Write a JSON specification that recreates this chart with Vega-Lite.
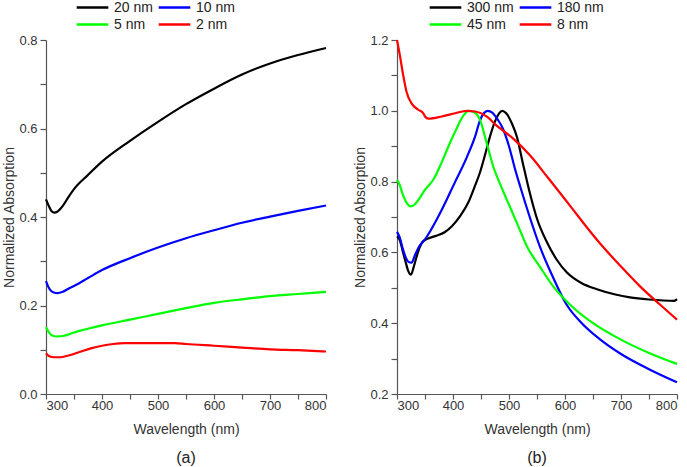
{
  "$schema": "https://vega.github.io/schema/vega-lite/v6.json",
  "padding": {"left": 2, "top": 0, "right": 5, "bottom": 2},
  "background": "white",
  "config": {
    "view": {"stroke": null},
    "font": "Liberation Sans",
    "axis": {"grid": false, "domainColor": "#555", "tickColor": "#555", "labelColor": "#333", "titleColor": "#333", "labelFont": "Liberation Sans", "titleFont": "Liberation Sans", "labelFontSize": 13, "titleFontSize": 14, "titleFontWeight": "normal", "domainWidth": 1.2, "tickWidth": 1.2},
    "axisX": {"tickSize": 5, "labelPadding": 0, "titlePadding": 10},
    "axisY": {"tickSize": 6, "labelPadding": 3, "titlePadding": 2},
    "legend": {"orient": "none", "columns": 2, "symbolType": "stroke", "symbolSize": 1000, "symbolStrokeWidth": 2.5, "clipHeight": 15, "labelFontSize": 14, "labelColor": "#222", "labelFont": "Liberation Sans", "labelOffset": 4, "columnPadding": 4, "rowPadding": 2, "title": null, "padding": 0},
    "title": {"orient": "bottom", "fontSize": 16, "fontWeight": "normal", "font": "Liberation Sans", "color": "#222", "offset": 14}
  },
  "datasets": {
    "panelA": [
      {"series": "20 nm", "wavelength": 300, "absorption": 0.44},
      {"series": "20 nm", "wavelength": 305, "absorption": 0.425},
      {"series": "20 nm", "wavelength": 310, "absorption": 0.413},
      {"series": "20 nm", "wavelength": 315, "absorption": 0.41},
      {"series": "20 nm", "wavelength": 320, "absorption": 0.412},
      {"series": "20 nm", "wavelength": 330, "absorption": 0.425},
      {"series": "20 nm", "wavelength": 340, "absorption": 0.445},
      {"series": "20 nm", "wavelength": 350, "absorption": 0.463},
      {"series": "20 nm", "wavelength": 375, "absorption": 0.495},
      {"series": "20 nm", "wavelength": 400, "absorption": 0.525},
      {"series": "20 nm", "wavelength": 450, "absorption": 0.572},
      {"series": "20 nm", "wavelength": 500, "absorption": 0.615},
      {"series": "20 nm", "wavelength": 550, "absorption": 0.655},
      {"series": "20 nm", "wavelength": 600, "absorption": 0.69},
      {"series": "20 nm", "wavelength": 650, "absorption": 0.722},
      {"series": "20 nm", "wavelength": 700, "absorption": 0.747},
      {"series": "20 nm", "wavelength": 750, "absorption": 0.766},
      {"series": "20 nm", "wavelength": 800, "absorption": 0.782},
      {"series": "10 nm", "wavelength": 300, "absorption": 0.255},
      {"series": "10 nm", "wavelength": 305, "absorption": 0.24},
      {"series": "10 nm", "wavelength": 310, "absorption": 0.232},
      {"series": "10 nm", "wavelength": 320, "absorption": 0.228},
      {"series": "10 nm", "wavelength": 330, "absorption": 0.231},
      {"series": "10 nm", "wavelength": 340, "absorption": 0.238},
      {"series": "10 nm", "wavelength": 350, "absorption": 0.244},
      {"series": "10 nm", "wavelength": 375, "absorption": 0.262},
      {"series": "10 nm", "wavelength": 400, "absorption": 0.28},
      {"series": "10 nm", "wavelength": 450, "absorption": 0.307},
      {"series": "10 nm", "wavelength": 500, "absorption": 0.331},
      {"series": "10 nm", "wavelength": 550, "absorption": 0.352},
      {"series": "10 nm", "wavelength": 600, "absorption": 0.37},
      {"series": "10 nm", "wavelength": 650, "absorption": 0.387},
      {"series": "10 nm", "wavelength": 700, "absorption": 0.401},
      {"series": "10 nm", "wavelength": 750, "absorption": 0.414},
      {"series": "10 nm", "wavelength": 800, "absorption": 0.426},
      {"series": "5 nm", "wavelength": 300, "absorption": 0.151},
      {"series": "5 nm", "wavelength": 305, "absorption": 0.14},
      {"series": "5 nm", "wavelength": 310, "absorption": 0.133},
      {"series": "5 nm", "wavelength": 320, "absorption": 0.13},
      {"series": "5 nm", "wavelength": 330, "absorption": 0.131},
      {"series": "5 nm", "wavelength": 350, "absorption": 0.139},
      {"series": "5 nm", "wavelength": 400, "absorption": 0.155},
      {"series": "5 nm", "wavelength": 450, "absorption": 0.168},
      {"series": "5 nm", "wavelength": 500, "absorption": 0.181},
      {"series": "5 nm", "wavelength": 550, "absorption": 0.194},
      {"series": "5 nm", "wavelength": 600, "absorption": 0.206},
      {"series": "5 nm", "wavelength": 650, "absorption": 0.214},
      {"series": "5 nm", "wavelength": 700, "absorption": 0.221},
      {"series": "5 nm", "wavelength": 750, "absorption": 0.226},
      {"series": "5 nm", "wavelength": 800, "absorption": 0.231},
      {"series": "2 nm", "wavelength": 300, "absorption": 0.092},
      {"series": "2 nm", "wavelength": 305, "absorption": 0.086},
      {"series": "2 nm", "wavelength": 315, "absorption": 0.083},
      {"series": "2 nm", "wavelength": 325, "absorption": 0.083},
      {"series": "2 nm", "wavelength": 340, "absorption": 0.087},
      {"series": "2 nm", "wavelength": 360, "absorption": 0.095},
      {"series": "2 nm", "wavelength": 380, "absorption": 0.103},
      {"series": "2 nm", "wavelength": 400, "absorption": 0.109},
      {"series": "2 nm", "wavelength": 420, "absorption": 0.113},
      {"series": "2 nm", "wavelength": 440, "absorption": 0.115},
      {"series": "2 nm", "wavelength": 500, "absorption": 0.115},
      {"series": "2 nm", "wavelength": 530, "absorption": 0.115},
      {"series": "2 nm", "wavelength": 550, "absorption": 0.113},
      {"series": "2 nm", "wavelength": 600, "absorption": 0.109},
      {"series": "2 nm", "wavelength": 650, "absorption": 0.105},
      {"series": "2 nm", "wavelength": 700, "absorption": 0.101},
      {"series": "2 nm", "wavelength": 750, "absorption": 0.099},
      {"series": "2 nm", "wavelength": 800, "absorption": 0.096}
    ],
    "panelB": [
      {"series": "300 nm", "wavelength": 300, "absorption": 0.645},
      {"series": "300 nm", "wavelength": 305, "absorption": 0.635},
      {"series": "300 nm", "wavelength": 310, "absorption": 0.605},
      {"series": "300 nm", "wavelength": 315, "absorption": 0.575},
      {"series": "300 nm", "wavelength": 320, "absorption": 0.548},
      {"series": "300 nm", "wavelength": 325, "absorption": 0.537},
      {"series": "300 nm", "wavelength": 330, "absorption": 0.56},
      {"series": "300 nm", "wavelength": 335, "absorption": 0.588},
      {"series": "300 nm", "wavelength": 340, "absorption": 0.612},
      {"series": "300 nm", "wavelength": 347, "absorption": 0.632},
      {"series": "300 nm", "wavelength": 368, "absorption": 0.646},
      {"series": "300 nm", "wavelength": 385, "absorption": 0.657},
      {"series": "300 nm", "wavelength": 398, "absorption": 0.674},
      {"series": "300 nm", "wavelength": 413, "absorption": 0.703},
      {"series": "300 nm", "wavelength": 427, "absorption": 0.74},
      {"series": "300 nm", "wavelength": 439, "absorption": 0.787},
      {"series": "300 nm", "wavelength": 448, "absorption": 0.825},
      {"series": "300 nm", "wavelength": 458, "absorption": 0.88},
      {"series": "300 nm", "wavelength": 466, "absorption": 0.927},
      {"series": "300 nm", "wavelength": 475, "absorption": 0.97},
      {"series": "300 nm", "wavelength": 482, "absorption": 0.992},
      {"series": "300 nm", "wavelength": 488, "absorption": 1.0},
      {"series": "300 nm", "wavelength": 495, "absorption": 0.993},
      {"series": "300 nm", "wavelength": 505, "absorption": 0.965},
      {"series": "300 nm", "wavelength": 514, "absorption": 0.927},
      {"series": "300 nm", "wavelength": 525, "absorption": 0.85},
      {"series": "300 nm", "wavelength": 537, "absorption": 0.769},
      {"series": "300 nm", "wavelength": 550, "absorption": 0.695},
      {"series": "300 nm", "wavelength": 568, "absorption": 0.628},
      {"series": "300 nm", "wavelength": 585, "absorption": 0.58},
      {"series": "300 nm", "wavelength": 603, "absorption": 0.544},
      {"series": "300 nm", "wavelength": 630, "absorption": 0.513},
      {"series": "300 nm", "wavelength": 657, "absorption": 0.496},
      {"series": "300 nm", "wavelength": 690, "absorption": 0.481},
      {"series": "300 nm", "wavelength": 716, "absorption": 0.473},
      {"series": "300 nm", "wavelength": 750, "absorption": 0.467},
      {"series": "300 nm", "wavelength": 795, "absorption": 0.463},
      {"series": "300 nm", "wavelength": 800, "absorption": 0.468},
      {"series": "180 nm", "wavelength": 300, "absorption": 0.658},
      {"series": "180 nm", "wavelength": 305, "absorption": 0.642},
      {"series": "180 nm", "wavelength": 310, "absorption": 0.612},
      {"series": "180 nm", "wavelength": 315, "absorption": 0.588},
      {"series": "180 nm", "wavelength": 320, "absorption": 0.574},
      {"series": "180 nm", "wavelength": 326, "absorption": 0.571},
      {"series": "180 nm", "wavelength": 332, "absorption": 0.592},
      {"series": "180 nm", "wavelength": 340, "absorption": 0.618},
      {"series": "180 nm", "wavelength": 350, "absorption": 0.637},
      {"series": "180 nm", "wavelength": 374, "absorption": 0.702},
      {"series": "180 nm", "wavelength": 404, "absorption": 0.8},
      {"series": "180 nm", "wavelength": 425, "absorption": 0.87},
      {"series": "180 nm", "wavelength": 440, "absorption": 0.93},
      {"series": "180 nm", "wavelength": 448, "absorption": 0.972},
      {"series": "180 nm", "wavelength": 455, "absorption": 0.993},
      {"series": "180 nm", "wavelength": 462, "absorption": 1.0},
      {"series": "180 nm", "wavelength": 470, "absorption": 0.995},
      {"series": "180 nm", "wavelength": 480, "absorption": 0.975},
      {"series": "180 nm", "wavelength": 489, "absorption": 0.95},
      {"series": "180 nm", "wavelength": 500, "absorption": 0.9},
      {"series": "180 nm", "wavelength": 510, "absorption": 0.84},
      {"series": "180 nm", "wavelength": 520, "absorption": 0.786},
      {"series": "180 nm", "wavelength": 537, "absorption": 0.7},
      {"series": "180 nm", "wavelength": 555, "absorption": 0.617},
      {"series": "180 nm", "wavelength": 580, "absorption": 0.525},
      {"series": "180 nm", "wavelength": 603, "absorption": 0.452},
      {"series": "180 nm", "wavelength": 630, "absorption": 0.4},
      {"series": "180 nm", "wavelength": 662, "absorption": 0.355},
      {"series": "180 nm", "wavelength": 700, "absorption": 0.313},
      {"series": "180 nm", "wavelength": 750, "absorption": 0.27},
      {"series": "180 nm", "wavelength": 800, "absorption": 0.233},
      {"series": "45 nm", "wavelength": 300, "absorption": 0.805},
      {"series": "45 nm", "wavelength": 305, "absorption": 0.79},
      {"series": "45 nm", "wavelength": 310, "absorption": 0.765},
      {"series": "45 nm", "wavelength": 318, "absorption": 0.738},
      {"series": "45 nm", "wavelength": 325, "absorption": 0.73},
      {"series": "45 nm", "wavelength": 332, "absorption": 0.736},
      {"series": "45 nm", "wavelength": 342, "absorption": 0.757},
      {"series": "45 nm", "wavelength": 350, "absorption": 0.777},
      {"series": "45 nm", "wavelength": 355, "absorption": 0.786},
      {"series": "45 nm", "wavelength": 365, "absorption": 0.806},
      {"series": "45 nm", "wavelength": 380, "absorption": 0.855},
      {"series": "45 nm", "wavelength": 392, "absorption": 0.9},
      {"series": "45 nm", "wavelength": 405, "absorption": 0.945},
      {"series": "45 nm", "wavelength": 418, "absorption": 0.985},
      {"series": "45 nm", "wavelength": 428, "absorption": 1.0},
      {"series": "45 nm", "wavelength": 438, "absorption": 0.996},
      {"series": "45 nm", "wavelength": 448, "absorption": 0.975},
      {"series": "45 nm", "wavelength": 460, "absorption": 0.91},
      {"series": "45 nm", "wavelength": 472, "absorption": 0.842},
      {"series": "45 nm", "wavelength": 485, "absorption": 0.79},
      {"series": "45 nm", "wavelength": 496, "absorption": 0.749},
      {"series": "45 nm", "wavelength": 515, "absorption": 0.68},
      {"series": "45 nm", "wavelength": 532, "absorption": 0.617},
      {"series": "45 nm", "wavelength": 555, "absorption": 0.56},
      {"series": "45 nm", "wavelength": 579, "absorption": 0.504},
      {"series": "45 nm", "wavelength": 614, "absorption": 0.445},
      {"series": "45 nm", "wavelength": 650, "absorption": 0.4},
      {"series": "45 nm", "wavelength": 698, "absorption": 0.355},
      {"series": "45 nm", "wavelength": 750, "absorption": 0.316},
      {"series": "45 nm", "wavelength": 800, "absorption": 0.285},
      {"series": "8 nm", "wavelength": 300, "absorption": 1.2},
      {"series": "8 nm", "wavelength": 305, "absorption": 1.158},
      {"series": "8 nm", "wavelength": 311, "absorption": 1.101},
      {"series": "8 nm", "wavelength": 317, "absorption": 1.054},
      {"series": "8 nm", "wavelength": 326, "absorption": 1.021},
      {"series": "8 nm", "wavelength": 338, "absorption": 1.003},
      {"series": "8 nm", "wavelength": 347, "absorption": 0.993},
      {"series": "8 nm", "wavelength": 350, "absorption": 0.984},
      {"series": "8 nm", "wavelength": 356, "absorption": 0.978},
      {"series": "8 nm", "wavelength": 380, "absorption": 0.984},
      {"series": "8 nm", "wavelength": 404, "absorption": 0.993},
      {"series": "8 nm", "wavelength": 425, "absorption": 1.0},
      {"series": "8 nm", "wavelength": 440, "absorption": 0.998},
      {"series": "8 nm", "wavelength": 460, "absorption": 0.984},
      {"series": "8 nm", "wavelength": 478, "absorption": 0.958},
      {"series": "8 nm", "wavelength": 507, "absorption": 0.922},
      {"series": "8 nm", "wavelength": 537, "absorption": 0.875},
      {"series": "8 nm", "wavelength": 570, "absorption": 0.81},
      {"series": "8 nm", "wavelength": 600, "absorption": 0.75},
      {"series": "8 nm", "wavelength": 627, "absorption": 0.695},
      {"series": "8 nm", "wavelength": 660, "absorption": 0.63},
      {"series": "8 nm", "wavelength": 700, "absorption": 0.56},
      {"series": "8 nm", "wavelength": 734, "absorption": 0.504},
      {"series": "8 nm", "wavelength": 770, "absorption": 0.452},
      {"series": "8 nm", "wavelength": 800, "absorption": 0.41}
    ]
  },
  "hconcat": [
    {
      "width": 280,
      "height": 354,
      "data": {"name": "panelA"},
      "title": "(a)",
      "mark": {"type": "line", "strokeWidth": 2.2, "interpolate": "monotone"},
      "encoding": {
        "x": {"field": "wavelength", "type": "quantitative", "scale": {"domain": [300, 800], "nice": false, "zero": false},
              "axis": {"title": "Wavelength (nm)", "values": [300, 350, 400, 450, 500, 550, 600, 650, 700, 750, 800], "labelExpr": "datum.value % 100 == 0 ? datum.label : ''"}},
        "y": {"field": "absorption", "type": "quantitative", "scale": {"domain": [0, 0.8], "nice": false},
              "axis": {"title": "Normalized Absorption", "values": [0, 0.1, 0.2, 0.3, 0.4, 0.5, 0.6, 0.7, 0.8], "labelExpr": "round(datum.value * 10) % 2 == 0 ? format(datum.value, '.1f') : ''"}},
        "color": {"field": "series", "type": "nominal",
                  "scale": {"domain": ["20 nm", "5 nm", "10 nm", "2 nm"], "range": ["#000000", "#00ff00", "#0000ff", "#ff0000"]},
                  "legend": {"legendX": 29, "legendY": -40}}
      }
    },
    {
      "width": 280,
      "height": 354,
      "data": {"name": "panelB"},
      "title": "(b)",
      "mark": {"type": "line", "strokeWidth": 2.2, "interpolate": "monotone"},
      "encoding": {
        "x": {"field": "wavelength", "type": "quantitative", "scale": {"domain": [300, 800], "nice": false, "zero": false},
              "axis": {"title": "Wavelength (nm)", "values": [300, 350, 400, 450, 500, 550, 600, 650, 700, 750, 800], "labelExpr": "datum.value % 100 == 0 ? datum.label : ''"}},
        "y": {"field": "absorption", "type": "quantitative", "scale": {"domain": [0.2, 1.2], "nice": false, "zero": false},
              "axis": {"title": "Normalized Absorption", "values": [0.2, 0.3, 0.4, 0.5, 0.6, 0.7, 0.8, 0.9, 1.0, 1.1, 1.2], "labelExpr": "round(datum.value * 10) % 2 == 0 ? format(datum.value, '.1f') : ''"}},
        "color": {"field": "series", "type": "nominal",
                  "scale": {"domain": ["300 nm", "45 nm", "180 nm", "8 nm"], "range": ["#000000", "#00ff00", "#0000ff", "#ff0000"]},
                  "legend": {"legendX": 31, "legendY": -40}}
      }
    }
  ],
  "spacing": 22,
  "resolve": {"scale": {"color": "independent", "y": "independent"}, "legend": {"color": "independent"}}
}
